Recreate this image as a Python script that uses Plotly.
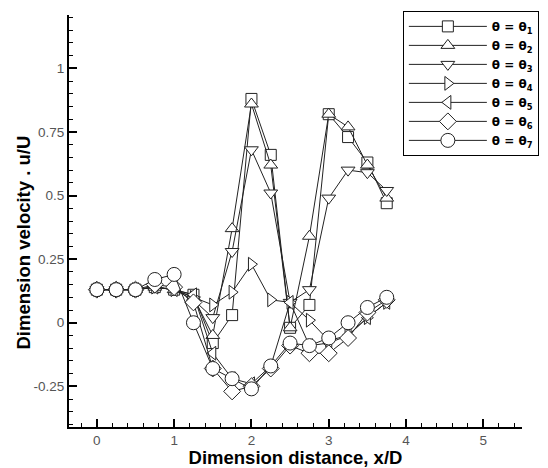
import plotly.graph_objects as go

x_vals = [0, 0.25, 0.5, 0.75, 1.0, 1.25, 1.5, 1.75, 2.0, 2.25, 2.5, 2.75, 3.0, 3.25, 3.5, 3.75]

theta1 = [0.13, 0.13, 0.13, 0.14, 0.13, 0.11, -0.08, 0.03, 0.88, 0.66, -0.02, 0.07, 0.82, 0.73, 0.63, 0.47]
theta2 = [0.13, 0.13, 0.13, 0.14, 0.13, 0.10, -0.05, 0.37, 0.86, 0.62, -0.02, 0.34, 0.82, 0.77, 0.62, 0.49]
theta3 = [0.13, 0.13, 0.13, 0.14, 0.13, 0.09, 0.02, 0.28, 0.68, 0.51, 0.08, 0.13, 0.49, 0.60, 0.59, 0.52]
theta4 = [0.13, 0.13, 0.13, 0.14, 0.13, 0.10, 0.07, 0.12, 0.23, 0.09, 0.08, 0.01, -0.07, -0.05, 0.02, 0.08]
theta5 = [0.13, 0.13, 0.13, 0.14, 0.13, 0.11, -0.12, -0.22, -0.24, -0.17, 0.08, -0.09, -0.08, -0.05, 0.02, 0.08]
theta6 = [0.13, 0.13, 0.13, 0.15, 0.14, 0.08, -0.18, -0.27, -0.25, -0.18, -0.09, -0.12, -0.12, -0.06, 0.04, 0.09]
theta7 = [0.13, 0.13, 0.13, 0.17, 0.19, 0.00, -0.18, -0.22, -0.26, -0.17, -0.08, -0.09, -0.06, 0.00, 0.06, 0.10]

NB = "\u00a0"
series_names = [f"θ{NB}={NB}θ<sub>{i}</sub>" for i in range(1, 8)]
series_vals = [theta1, theta2, theta3, theta4, theta5, theta6, theta7]
symbols = ["square", "triangle-up", "triangle-down", "triangle-right", "triangle-left", "diamond", "circle"]
sizes = [11, 12, 12, 12, 12, 13, 14]

y_tickvals = [-0.25, 0, 0.25, 0.5, 0.75, 1]
y_ticktext = ["-0.25", "0", "0.25", "0.5", "0.75", "1"]
x_tickvals = [0, 1, 2, 3, 4, 5]
x_ticktext = ["0", "1", "2", "3", "4", "5"]

x_title = "Dimension distance, x/D"
y_title = "Dimension velocity . u/U"

fig = go.Figure()
for name, vals, sym, sz in zip(series_names, series_vals, symbols, sizes):
    fig.add_trace(go.Scatter(
        x=x_vals, y=vals, name=name, mode="lines+markers",
        line=dict(color="#222222", width=1),
        marker=dict(symbol=sym, size=sz, color="white",
                    line=dict(color="#222222", width=1)),
    ))

axis_font = dict(family="Liberation Sans, Arial", size=13.5, color="#555555")
title_font = dict(family="Liberation Sans, Arial", size=18.5, color="black", weight="bold")

fig.update_layout(
    width=548, height=468,
    margin=dict(l=69, r=26, t=15, b=41, autoexpand=False),
    paper_bgcolor="white", plot_bgcolor="white",
    showlegend=True,
    legend=dict(
        x=0.737, y=1.01, xanchor="left", yanchor="top",
        bgcolor="white", bordercolor="black", borderwidth=1,
        font=dict(family="DejaVu Sans, Liberation Sans", size=12, color="black", weight="bold"),
        itemwidth=78, tracegroupgap=0,
    ),
    xaxis=dict(
        range=[-0.36, 5.5], showgrid=False, zeroline=False,
        showline=True, linecolor="black", linewidth=2,
        ticks="inside", ticklen=8, tickwidth=2, tickcolor="black",
        tickvals=x_tickvals, ticktext=x_ticktext, tickfont=axis_font,
        minor=dict(ticks="inside", ticklen=4, tickwidth=1, dtick=0.2, tick0=0, tickcolor="black", showgrid=False),
        title=dict(text=x_title, font=title_font, standoff=6),
        automargin=False,
    ),
    yaxis=dict(
        range=[-0.41, 1.21], showgrid=False, zeroline=False,
        showline=True, linecolor="black", linewidth=2,
        ticks="inside", ticklen=8, tickwidth=2, tickcolor="black",
        tickvals=y_tickvals, ticktext=y_ticktext, tickfont=axis_font,
        minor=dict(ticks="inside", ticklen=4, tickwidth=1, dtick=0.05, tick0=0, tickcolor="black", showgrid=False),
        automargin=False,
    ),
    annotations=[dict(
        text=y_title, font=title_font, textangle=-90,
        xref="paper", yref="paper", x=-0.1, y=0.447,
        xanchor="center", yanchor="middle", showarrow=False,
    )],
)

fig.write_html("out.html")
